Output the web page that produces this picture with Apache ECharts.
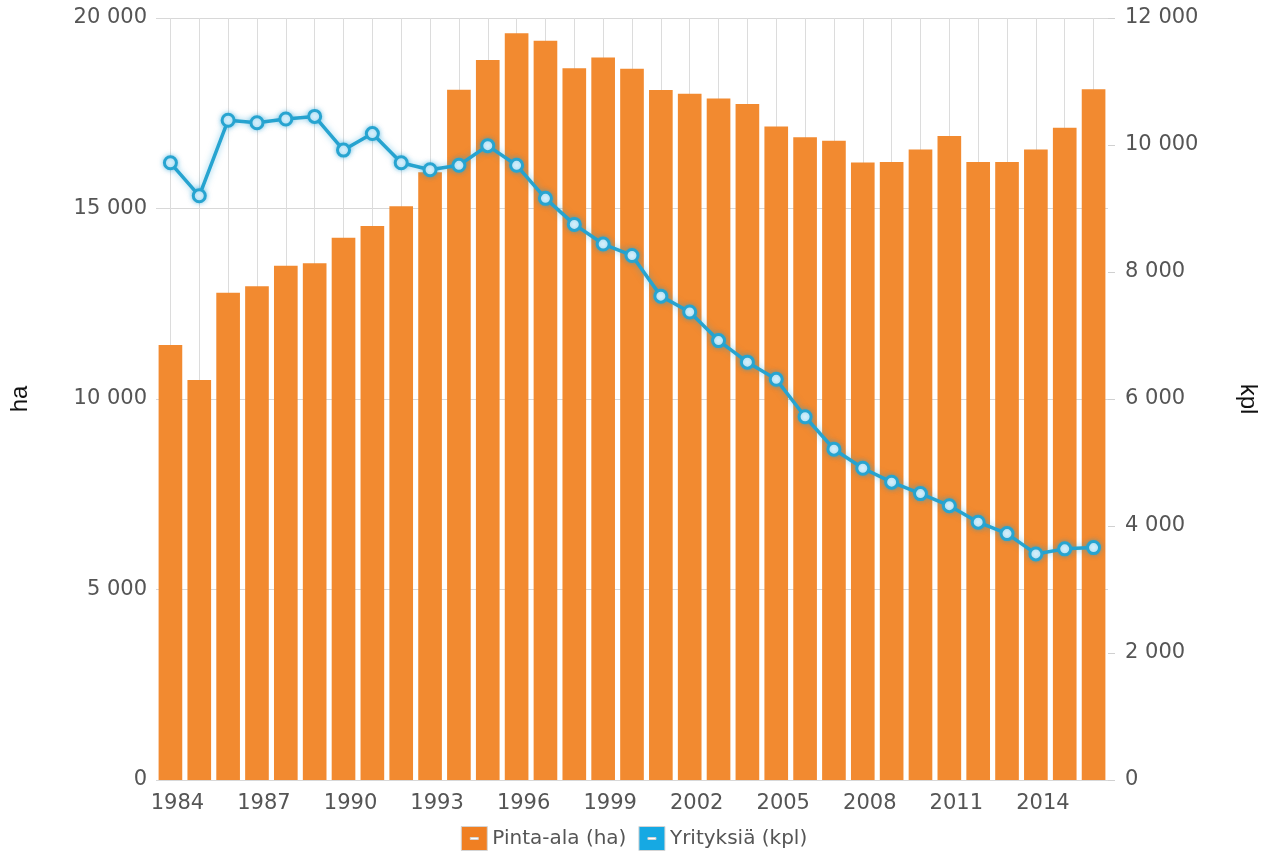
<!DOCTYPE html>
<html>
<head>
<meta charset="utf-8">
<script src="https://cdn.jsdelivr.net/npm/echarts@6/dist/echarts.min.js"></script>
<style>
html,body{margin:0;padding:0;background:#fff;}
#chart{width:1268px;height:852px;}
</style>
</head>
<body>
<div id="chart"></div>
<script>
const years = ['1984','1985','1986','1987','1988','1989','1990','1991','1992','1993','1994','1995','1996','1997','1998','1999','2000','2001','2002','2003','2004','2005','2006','2007','2008','2009','2010','2011','2012','2013','2014','2015','2016'];
const pintaAla = [11420,10500,12790,12960,13500,13560,14230,14540,15060,15950,18120,18900,19600,19400,18680,18960,18670,18110,18010,17890,17740,17150,16870,16780,16210,16220,16550,16900,16220,16220,16550,17120,18130];
const yrityksia = [9720,9200,10390,10350,10410,10450,9920,10180,9720,9610,9680,9990,9680,9160,8750,8440,8260,7620,7370,6920,6580,6310,5720,5210,4910,4690,4510,4320,4060,3880,3560,3640,3660];
const leftTicks = {min:0, max:20000, interval:5000};
const rightTicks = {min:0, max:12000, interval:2000};
const seriesNames = ['Pinta-ala (ha)','Yrityksiä (kpl)'];

const fmt = v => String(v).replace(/\B(?=(\d{3})+(?!\d))/g, ' ');
const FONT = 'DejaVu Sans';
const barColor = '#f28a30';
const lineColor = '#27a4d0';
const legendIcon = 'path://M0,0 L26,0 L26,24 L0,24 Z M9,11 L9,13 L17,13 L17,11 Z';

const chart = echarts.init(document.getElementById('chart'), null, {renderer:'canvas'});
chart.setOption({
  animation:false,
  backgroundColor:'#fff',
  grid:{left:151, right:153, top:18, bottom:72, containLabel:false},
  legend:{
    left:'center', top:821,
    itemWidth:26, itemHeight:24, itemGap:12,
    textStyle:{fontFamily:FONT, fontSize:20, color:'#555'},
    data:[
      {name:seriesNames[0], icon:legendIcon, itemStyle:{color:'#f07f22', borderColor:'#d4d4d4', borderWidth:1}},
      {name:seriesNames[1], icon:legendIcon, itemStyle:{color:'#16a9e3', borderColor:'#d4d4d4', borderWidth:1}}
    ]
  },
  xAxis:{
    type:'category',
    data:years,
    boundaryGap:true,
    axisLine:{show:false},
    axisTick:{show:false, alignWithLabel:true},
    splitLine:{show:true, interval:0, alignWithLabel:true, lineStyle:{color:'#dcdcdc', width:1}},
    axisLabel:{interval:2, fontFamily:FONT, fontSize:21, color:'#555', margin:13, padding:[0,0,0,14]}
  },
  yAxis:[
    {
      type:'value', min:leftTicks.min, max:leftTicks.max, interval:leftTicks.interval,
      name:'ha', nameLocation:'middle', nameGap:124, nameRotate:90,
      nameTextStyle:{fontFamily:'Liberation Sans', fontSize:24, color:'#111'},
      axisLine:{show:false}, axisTick:{show:false},
      splitLine:{show:true, lineStyle:{color:'#d8d8d8', width:1}},
      axisLabel:{formatter:fmt, fontFamily:FONT, fontSize:21, color:'#555', margin:9}
    },
    {
      type:'value', min:rightTicks.min, max:rightTicks.max, interval:rightTicks.interval,
      position:'right',
      name:'kpl', nameLocation:'middle', nameGap:128, nameRotate:-90,
      nameTextStyle:{fontFamily:'Liberation Sans', fontSize:24, color:'#111'},
      axisLine:{show:false},
      axisTick:{show:true, length:7, lineStyle:{color:'#d0d0d0'}},
      splitLine:{show:false},
      axisLabel:{formatter:fmt, fontFamily:FONT, fontSize:21, color:'#555', margin:17}
    }
  ],
  series:[
    {
      name:seriesNames[0], type:'bar', yAxisIndex:0, data:pintaAla,
      barCategoryGap:'18%',
      itemStyle:{color:barColor},
      z:2
    },
    {
      name:seriesNames[1], type:'line', yAxisIndex:1, data:yrityksia,
      symbol:'circle', symbolSize:12,
      lineStyle:{color:lineColor, width:3.5, shadowColor:'rgba(30,160,215,0.5)', shadowBlur:6},
      itemStyle:{color:'#e9f8ff', borderColor:lineColor, borderWidth:3, shadowColor:'rgba(30,160,215,0.5)', shadowBlur:5},
      z:5
    }
  ]
});
</script>
</body>
</html>
